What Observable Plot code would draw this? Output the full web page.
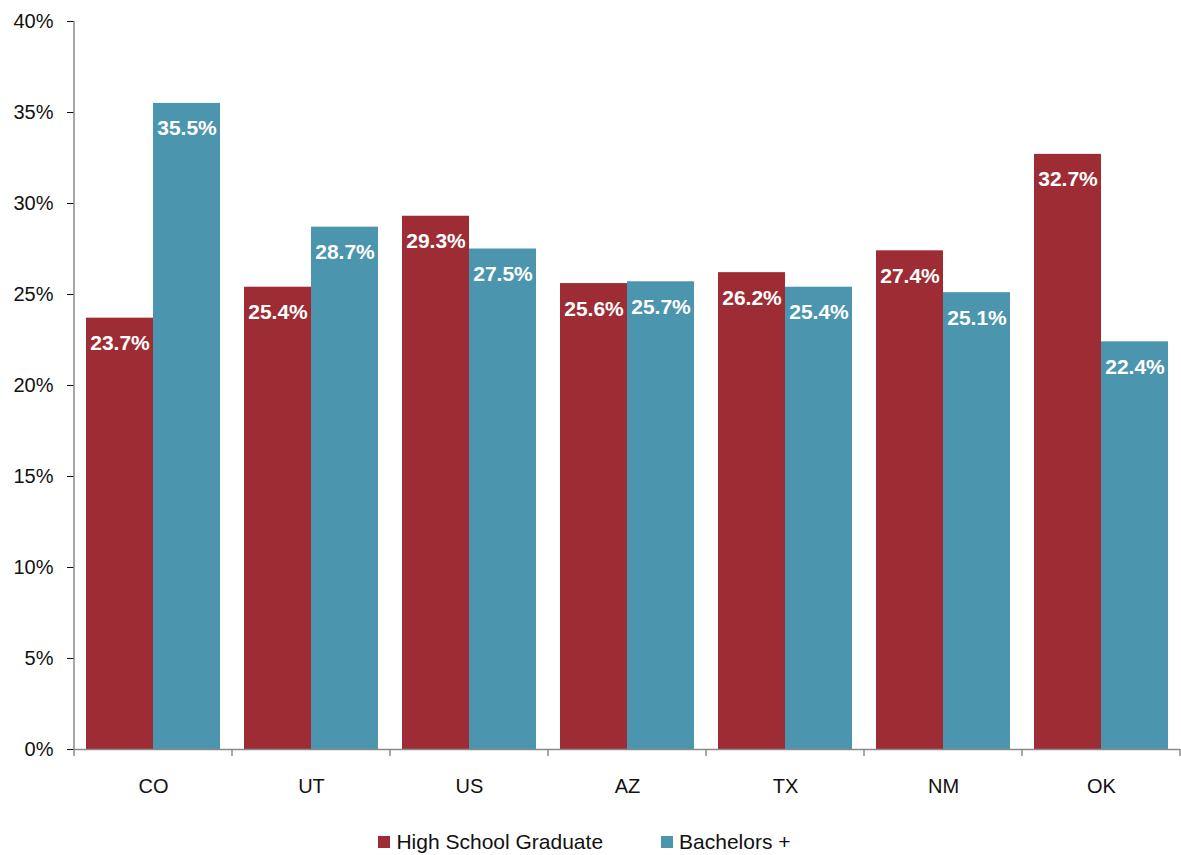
<!DOCTYPE html>
<html>
<head>
<meta charset="utf-8">
<script src="https://cdn.jsdelivr.net/npm/d3@7"></script>
<script src="https://cdn.jsdelivr.net/npm/@observablehq/plot@0.6"></script>
<style>
  body { margin: 0; background: #fff; font-family: "Liberation Sans", Arial, sans-serif; }
  #legend { display: flex; justify-content: center; gap: 58px; font-size: 21px; color: #111; margin-top: 15px; padding-right: 12px; }
  #legend .item { display: flex; align-items: center; }
  #legend .sw { display: inline-block; width: 12px; height: 12px; margin-right: 6px; }
</style>
</head>
<body>
<div id="chart"></div>
<script>
// Share of adults by educational attainment, by state
const states = ["CO", "UT", "US", "AZ", "TX", "NM", "OK"];
const highSchool = [23.7, 25.4, 29.3, 25.6, 26.2, 27.4, 32.7];
const bachelors = [35.5, 28.7, 27.5, 25.7, 25.4, 25.1, 22.4];
const seriesNames = ["High School Graduate", "Bachelors +"];
const seriesColors = ["#9e2c34", "#4b95ae"];
const yTicks = [0, 5, 10, 15, 20, 25, 30, 35, 40];

const rows = states.flatMap((s, i) => [
  { state: s, series: seriesNames[0], value: highSchool[i] },
  { state: s, series: seriesNames[1], value: bachelors[i] }
]);

const font = '"Liberation Sans", Arial, sans-serif';
const axisGray = "#8a8a8a";

const plot = Plot.plot({
  width: 1181,
  height: 815,
  marginTop: 21,
  marginBottom: 66,
  marginLeft: 73,
  marginRight: 1,
  style: { fontFamily: font, fontSize: "20px", color: "#111", background: "#fff" },
  facet: { data: rows, x: "state", label: null },
  fx: { domain: states, padding: 0, label: null, tickSize: 0, tickPadding: 29 },
  x: { domain: seriesNames, paddingInner: 0, paddingOuter: 0.17, axis: null },
  y: { domain: [0, 40], ticks: yTicks, tickFormat: d => d + "%", label: null, tickSize: 7, tickPadding: 14 },
  color: { domain: seriesNames, range: seriesColors },
  marks: [
    Plot.barY(rows, { x: "series", y: "value", fill: "series" }),
    Plot.text(rows, {
      x: "series", y: "value",
      text: d => d.value.toFixed(1) + "%",
      fill: "white", fontWeight: "bold", fontSize: 21,
      lineAnchor: "top", dy: 17
    }),
    Plot.ruleY([0], { stroke: axisGray, strokeWidth: 1.5 })
  ]
});

document.getElementById("chart").appendChild(plot);

// Axis line and category boundary ticks, placed with the plot's own scales
const svg = d3.select(plot.tagName.toLowerCase() === "svg" ? plot : plot.querySelector("svg"));
svg.selectAll("[aria-label='y-axis'] line, [aria-label='y-axis'] path, [aria-label='y-axis tick']")
  .attr("stroke", axisGray);
const fx = plot.scale("fx");
const y = plot.scale("y");
const x0 = fx.apply(states[0]);
const bounds = states.map(s => fx.apply(s)).concat([fx.apply(states[states.length - 1]) + fx.bandwidth]);
const g = svg.append("g").attr("stroke", axisGray).attr("stroke-width", 1.5);
g.append("line")
  .attr("x1", x0).attr("x2", x0)
  .attr("y1", y.apply(40)).attr("y2", y.apply(0));
g.selectAll("line.b").data(bounds).join("line").attr("class", "b")
  .attr("x1", d => d).attr("x2", d => d)
  .attr("y1", y.apply(0)).attr("y2", y.apply(0) + 7);

// Legend
const legend = d3.select("body").append("div").attr("id", "legend");
seriesNames.forEach((name, i) => {
  const item = legend.append("div").attr("class", "item");
  item.append("span").attr("class", "sw").style("background", seriesColors[i]);
  item.append("span").text(name);
});
</script>
</body>
</html>
